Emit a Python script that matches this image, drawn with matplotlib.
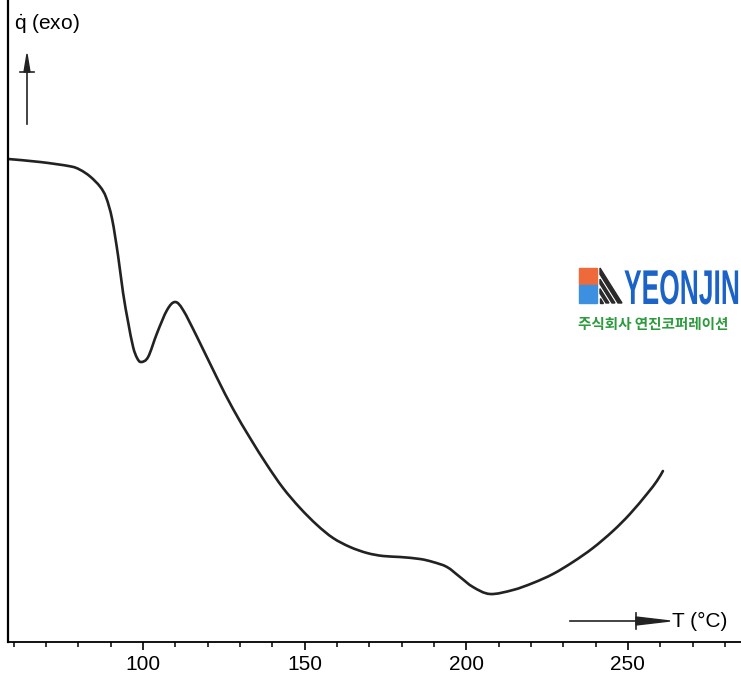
import matplotlib
matplotlib.use("Agg")
import matplotlib.pyplot as plt
from matplotlib.ticker import MultipleLocator
from matplotlib.textpath import TextPath
from matplotlib.patches import PathPatch, Rectangle, Polygon
from matplotlib.path import Path
from matplotlib.font_manager import FontProperties
from matplotlib.transforms import Affine2D

plt.rcParams['font.family'] = ['Liberation Sans', 'DejaVu Sans']
plt.rcParams['mathtext.fontset'] = 'custom'
plt.rcParams['mathtext.rm'] = 'Liberation Sans'

# DSC-Kurve (Temperatur in °C, Wärmestrom in willkürlichen Einheiten)
temp = [58.24, 68.14, 77.42, 80.51, 83.61, 86.70, 88.56, 90.41, 92.27, 93.81,
        95.36, 96.91, 98.14, 99.38, 101.55, 104.33, 107.42, 109.90, 112.37,
        116.70, 122.89, 127.84, 133.09, 138.35, 143.30, 148.56, 153.82, 158.77,
        164.03, 169.29, 174.23, 179.49, 185.68, 189.70, 194.03, 198.05, 202.07,
        207.33, 214.44, 220.63, 226.82, 233.00, 239.19, 245.38, 250.63, 255.89,
        258.98, 260.84]
heat = [48.30, 48.00, 47.57, 47.22, 46.55, 45.53, 44.45, 42.30, 38.60, 34.90,
        32.00, 29.50, 28.40, 28.00, 28.50, 30.90, 33.20, 34.00, 33.20,
        30.50, 26.40, 23.30, 20.40, 17.70, 15.40, 13.40, 11.70, 10.40,
        9.50, 8.90, 8.60, 8.50, 8.30, 8.00, 7.50, 6.50, 5.50,
        4.80, 5.20, 5.90, 6.80, 8.00, 9.40, 11.10, 12.80, 14.80,
        16.10, 17.10]
major_ticks = [100, 150, 200, 250]


def smooth_path(xs, ys):
    # Catmull-Rom durch die Messpunkte, als kubische Bezier-Segmente
    pts = list(zip(xs, ys))
    n = len(pts)
    verts = [pts[0]]
    codes = [Path.MOVETO]
    for i in range(n - 1):
        p0 = pts[max(i - 1, 0)]
        p1 = pts[i]
        p2 = pts[i + 1]
        p3 = pts[min(i + 2, n - 1)]
        c1 = (p1[0] + (p2[0] - p0[0]) / 6, p1[1] + (p2[1] - p0[1]) / 6)
        c2 = (p2[0] - (p3[0] - p1[0]) / 6, p2[1] - (p3[1] - p1[1]) / 6)
        verts += [c1, c2, p2]
        codes += [Path.CURVE4] * 3
    return Path(verts, codes)


W, H = 741, 674
fig = plt.figure(figsize=(W / 100, H / 100), dpi=100)
ax = fig.add_axes([8 / W, 32 / H, 1 - 8 / W, 642 / H])

ax.add_patch(PathPatch(smooth_path(temp, heat), fill=False, edgecolor='#222222',
                       lw=1.9, capstyle='round', joinstyle='round'))
ax.set_xlim(58.2, 285)
ax.set_ylim(0, 64.2)

for s in ['top', 'right']:
    ax.spines[s].set_visible(False)
ax.spines['left'].set_linewidth(1.6)
ax.spines['bottom'].set_linewidth(1.3)
ax.set_yticks([])
ax.set_xticks(major_ticks)
ax.xaxis.set_minor_locator(MultipleLocator(10))
ax.tick_params(axis='x', which='major', length=6, width=1.2, pad=3, labelsize=15)
ax.tick_params(axis='x', which='minor', length=3.5, width=1.1)


def fx(px):
    return px / W


def fy(py):
    return 1 - py / H


# y-Achsenbeschriftung mit Pfeil
fig.text(fx(14), fy(29), r'$\dot{\mathrm{q}}$ (exo)', fontsize=15, va='baseline', ha='left')
fig.add_artist(plt.Line2D([fx(27), fx(27)], [fy(124), fy(70)], color='#222222', lw=1.2))
fig.add_artist(plt.Line2D([fx(20), fx(34)], [fy(72), fy(72)], color='#222222', lw=1.2))
fig.add_artist(Polygon([[fx(24), fy(72)], [fx(30), fy(72)], [fx(27), fy(54)]],
                       closed=True, color='#222222', transform=fig.transFigure))

# x-Achsenbeschriftung mit Pfeil
fig.add_artist(plt.Line2D([fx(570), fx(640)], [fy(621), fy(621)], color='#222222', lw=1.2))
fig.add_artist(plt.Line2D([fx(636), fx(636)], [fy(613), fy(629)], color='#222222', lw=1.2))
fig.add_artist(Polygon([[fx(636), fy(617)], [fx(636), fy(625)], [fx(670), fy(621)]],
                       closed=True, color='#222222', transform=fig.transFigure))
fig.text(fx(672), fy(621), 'T (°C)', fontsize=15, va='center', ha='left')

# Wasserzeichen
fig.add_artist(Rectangle((fx(579), fy(285)), 18 / W, 17 / H, color='#ee6a3a',
                         transform=fig.transFigure))
fig.add_artist(Rectangle((fx(579), fy(303)), 18 / W, 18 / H, color='#3d8fe0',
                         transform=fig.transFigure))
for d1, d2 in [(0, 4), (7, 10), (13, 16), (19, 22)]:
    quad = [(622 - d1, 303), (622 - d2, 303),
            (600, 303 - 35 * (22 - d2) / 22), (600, 303 - 35 * (22 - d1) / 22)]
    fig.add_artist(Polygon([[fx(a), fy(b)] for a, b in quad], closed=True,
                           color='#2a2a2a', transform=fig.transFigure))
tp = TextPath((0, 0), 'YEONJIN', size=40,
              prop=FontProperties(family='Liberation Sans', weight='bold'))
tr = Affine2D().scale(0.66, 1.22).translate(624, H - 304)
fig.add_artist(PathPatch(tr.transform_path(tp), color='#1c63c8', lw=0, transform=None))
fig.text(fx(578), fy(324), '주식회사 연진코퍼레이션', fontsize=10.5, color='#2e9a3e',
         family=['Noto Sans CJK KR', 'DejaVu Sans'], weight='bold', va='center', ha='left')

fig.savefig('out.png', dpi=100)
